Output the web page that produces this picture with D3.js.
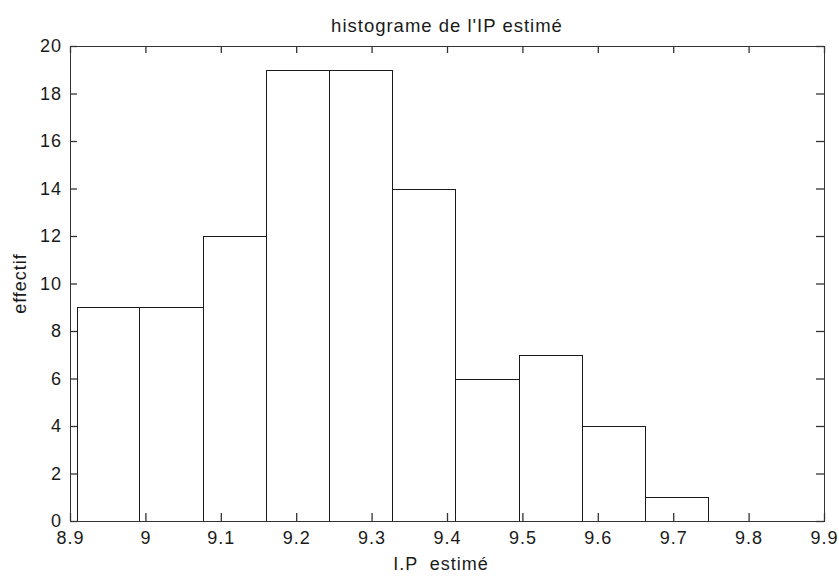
<!DOCTYPE html>
<html>
<head>
<meta charset="utf-8">
<script src="https://cdn.jsdelivr.net/npm/d3@7"></script>
<style>
  body { margin: 0; background: #fff; }
  text { font-family: "Liberation Sans", Arial, sans-serif; fill: #1a1a1a; }
</style>
</head>
<body>
<div id="chart"></div>
<script>
// bin edges of the histogram and counts per bin
const binEdges = [8.909, 8.992, 9.076, 9.160, 9.244, 9.327, 9.411, 9.495, 9.579, 9.662, 9.746];
const counts = [9, 9, 12, 19, 19, 14, 6, 7, 4, 1];
const xTicks = [8.9, 9, 9.1, 9.2, 9.3, 9.4, 9.5, 9.6, 9.7, 9.8, 9.9];
const yTicks = [0, 2, 4, 6, 8, 10, 12, 14, 16, 18, 20];

const W = 839, H = 576;
const margin = {top: 46, right: 15, bottom: 55, left: 70};
const width = W - margin.left - margin.right;
const height = H - margin.top - margin.bottom;

const svg = d3.select("#chart")
  .append("svg")
    .attr("width", W)
    .attr("height", H);

const g = svg.append("g")
  .attr("transform", "translate(" + margin.left + "," + margin.top + ")");

const x = d3.scaleLinear().domain([8.9, 9.9]).range([0, width]);
const y = d3.scaleLinear().domain([0, 20]).range([height, 0]);

const bins = counts.map((c, i) => ({x0: binEdges[i], x1: binEdges[i + 1], n: c}));

// bars
g.selectAll("rect.bar")
  .data(bins)
  .enter()
  .append("rect")
    .attr("class", "bar")
    .attr("x", d => Math.round(x(d.x0)) + 0.5)
    .attr("y", d => Math.round(y(d.n)) + 0.5)
    .attr("width", d => Math.round(x(d.x1)) - Math.round(x(d.x0)))
    .attr("height", d => Math.round(y(0)) - Math.round(y(d.n)))
    .attr("fill", "#fff")
    .attr("stroke", "#1a1a1a")
    .attr("stroke-width", 1.4)
    .attr("shape-rendering", "crispEdges");

// axes, ticks pointing inward on all four sides
function styleAxis(sel) {
  sel.select(".domain").remove();
  sel.selectAll(".tick line").attr("stroke", "#333").attr("stroke-width", 1.3);
  sel.selectAll(".tick text")
    .style("font-size", "18px")
    .style("letter-spacing", "1px")
    .style("font-family", "'Liberation Sans', Arial, sans-serif")
    .attr("fill", "#1a1a1a");
}

g.append("g")
  .attr("transform", "translate(0," + height + ")")
  .call(d3.axisBottom(x).tickValues(xTicks).tickFormat(d3.format("")).tickSizeInner(-8).tickSizeOuter(0).tickPadding(10))
  .call(styleAxis);

g.append("g")
  .call(d3.axisTop(x).tickValues(xTicks).tickFormat("").tickSizeInner(-7).tickSizeOuter(0))
  .call(styleAxis);

g.append("g")
  .call(d3.axisLeft(y).tickValues(yTicks).tickFormat(d3.format("")).tickSizeInner(-7).tickSizeOuter(0).tickPadding(8))
  .call(styleAxis);

g.append("g")
  .attr("transform", "translate(" + width + ",0)")
  .call(d3.axisRight(y).tickValues(yTicks).tickFormat("").tickSizeInner(-8).tickSizeOuter(0))
  .call(styleAxis);

// frame
g.append("rect")
  .attr("x", 0.5).attr("y", 0.5)
  .attr("width", Math.round(width)).attr("height", Math.round(height))
  .attr("fill", "none")
  .attr("stroke", "#333")
  .attr("stroke-width", 1.3)
  .attr("shape-rendering", "crispEdges");

// title and axis labels
svg.append("text")
  .attr("x", margin.left + width / 2)
  .attr("y", 32)
  .attr("text-anchor", "middle")
  .style("font-size", "18.5px")
  .style("letter-spacing", "1px")
  .text("histograme de l'IP estimé");

svg.append("text")
  .attr("x", 441)
  .attr("y", 570)
  .attr("text-anchor", "middle")
  .style("font-size", "18px")
  .style("letter-spacing", "1px")
  .style("white-space", "pre")
  .text("I.P  estimé");

svg.append("text")
  .attr("transform", "translate(26," + (margin.top + height / 2) + ") rotate(-90)")
  .attr("text-anchor", "middle")
  .style("font-size", "18px")
  .style("letter-spacing", "1px")
  .text("effectif");
</script>
</body>
</html>
